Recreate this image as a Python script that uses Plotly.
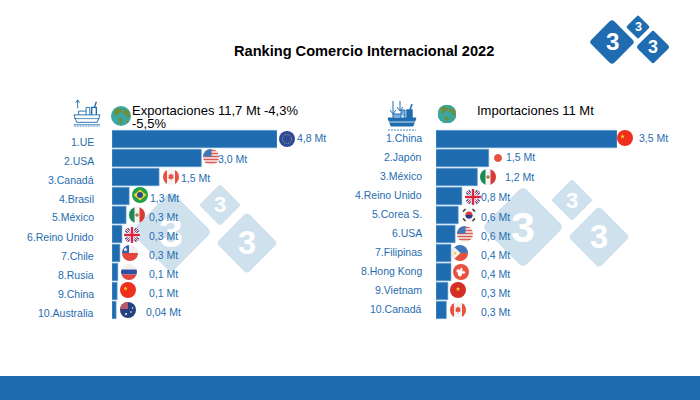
import base64
import plotly.graph_objects as go

W, H = 700, 400
BLUE = "#1f6db0"
TEXT_BLUE = "#1f6db0"
WATERMARK = "#d0e1ee"
FONT = "Liberation Sans"

# exportaciones
exp_names = ["1.UE", "2.USA", "3.Canadá", "4.Brasil", "5.México", "6.Reino Unido",
             "7.Chile", "8.Rusia", "9.China", "10.Australia"]
exp_bars = [4.8, 2.6, 1.37, 0.5, 0.41, 0.29, 0.23, 0.17, 0.15, 0.12]
exp_labels = ["4,8 Mt", "3,0 Mt", "1,5 Mt", "1,3 Mt", "0,3 Mt", "0,3 Mt",
              "0,3 Mt", "0,1 Mt", "0,1 Mt", "0,04 Mt"]
exp_flags = ["eu", "usa", "canada", "brazil", "mexico", "uk", "chile", "russia", "china", "australia"]

# importaciones
imp_names = ["1.China", "2.Japón", "3.México", "4.Reino Unido", "5.Corea S.", "6.USA",
             "7.Filipinas", "8.Hong Kong", "9.Vietnam", "10.Canadá"]
imp_bars = [3.5, 1.02, 0.8, 0.5, 0.43, 0.37, 0.29, 0.29, 0.23, 0.2]
imp_labels = ["3,5 Mt", "1,5 Mt", "1,2 Mt", "0,8 Mt", "0,6 Mt", "0,6 Mt",
              "0,4 Mt", "0,4 Mt", "0,3 Mt", "0,3 Mt"]
imp_flags = ["china", "japan", "mexico", "uk", "korea", "usa", "philippines", "hongkong", "vietnam", "canada"]

# where flags and value labels sit, in page pixels
exp_flag_x = [287, 211, 171, 140, 137, 132, 130, 129, 128, 128]
exp_flag_y = [139, 157, 177, 195, 215, 235, 253, 272, 290, 310]
exp_label_x = [296, 217, 180, 149, 148, 148, 148, 148, 148, 145]
exp_label_y = [138, 159, 178, 198, 217, 236, 255, 274, 293, 312]
imp_flag_x = [625, 0, 488, 473, 469, 465, 460, 461, 458, 458]
imp_flag_y = [138, 158, 177, 197, 215, 234, 253, 272, 290, 310]
imp_label_x = [638, 505, 504, 480, 480, 480, 480, 480, 480, 480]
imp_label_y = [138, 157, 177, 197, 217, 236, 255, 274, 293, 312]


def px(x):
    return x / W


def py(y):
    return 1 - y / H


def circle_svg(body):
    svg = ('<svg xmlns="http://www.w3.org/2000/svg" viewBox="0 0 32 32">'
           '<defs><clipPath id="c"><circle cx="16" cy="16" r="16"/></clipPath></defs>'
           '<g clip-path="url(#c)">' + body + '</g></svg>')
    return "data:image/svg+xml;base64," + base64.b64encode(svg.encode()).decode()


uk_body = ('<rect width="32" height="32" fill="#eef0f4"/>'
           '<path d="M0 0L32 32M32 0L0 32" stroke="#2d3f8c" stroke-width="9"/>'
           '<path d="M0 0L32 32M32 0L0 32" stroke="#ffffff" stroke-width="4"/>'
           '<path d="M0 0L32 32M32 0L0 32" stroke="#d7263d" stroke-width="2"/>'
           '<path d="M16 0V32M0 16H32" stroke="#ffffff" stroke-width="9"/>'
           '<path d="M16 0V32M0 16H32" stroke="#d7263d" stroke-width="5"/>')
star = '<path d="M{x} {a}l1.2 3.4h3.5l-2.8 2.1 1 3.4-2.9-2-2.9 2 1-3.4-2.8-2.1h3.5z" fill="{c}"/>'

FLAGS = {
    "eu": '<rect width="32" height="32" fill="#2b4a9b"/>'
          '<circle cx="16" cy="16" r="9" fill="none" stroke="#d6b23a" stroke-width="2" stroke-dasharray="2 2.7"/>',
    "usa": '<rect width="32" height="32" fill="#f3f3f3"/>'
           '<path d="M0 3H32M0 9H32M0 15H32M0 21H32M0 27H32" stroke="#e0574f" stroke-width="3"/>'
           '<rect width="17" height="15" fill="#3f76b8"/>',
    "canada": '<rect width="32" height="32" fill="#f5f5f5"/>'
              '<rect width="8" height="32" fill="#e8503f"/><rect x="24" width="8" height="32" fill="#e8503f"/>'
              '<path d="M16 8l2 4 3-1-1 5 2 1-3 3-2.500-0.500V24h-1v-4.500L13 20l-3-3 2-1-1-5 3 1z" fill="#e8503f"/>',
    "brazil": '<rect width="32" height="32" fill="#1fa04b"/>'
              '<path d="M16 5L29 16L16 27L3 16z" fill="#f5d327"/><circle cx="16" cy="16" r="6" fill="#214c94"/>',
    "mexico": '<rect width="32" height="32" fill="#f4f4f4"/>'
              '<rect width="11" height="32" fill="#1d8a55"/><rect x="21" width="11" height="32" fill="#d83a34"/>'
              '<circle cx="16" cy="16" r="3.500" fill="#a07c42"/>',
    "uk": uk_body,
    "chile": '<rect width="32" height="16" fill="#eeeeee"/><rect y="16" width="32" height="16" fill="#e0483e"/>'
             '<rect width="14" height="16" fill="#2f5ba8"/>' + star.format(x=7, a=4, c="#ffffff"),
    "russia": '<rect width="32" height="11" fill="#f1f1f1"/><rect y="11" width="32" height="10" fill="#2f4fa2"/>'
              '<rect y="21" width="32" height="11" fill="#e0483e"/>',
    "china": '<rect width="32" height="32" fill="#ee2f1c"/>' + star.format(x=11, a=8, c="#f8d12f"),
    "australia": '<rect width="32" height="32" fill="#27407f"/>'
                 '<rect width="16" height="14" fill="#b95a6a"/>'
                 '<circle cx="22" cy="20" r="1.500" fill="#ffffff"/><circle cx="12" cy="24" r="2" fill="#ffffff"/>'
                 '<circle cx="25" cy="12" r="1.500" fill="#ffffff"/>',
    "japan": '<circle cx="16" cy="16" r="16" fill="#e8503f"/>',
    "korea": '<rect width="32" height="32" fill="#f7f7f7"/><circle cx="16" cy="16" r="7" fill="#d83a34"/>'
             '<path d="M9 16a7 7 0 0 0 14 0z" fill="#23408f"/>'
             '<path d="M4 9L9 4M23 4L28 9M4 23L9 28M23 28L28 23" stroke="#333333" stroke-width="3"/>',
    "philippines": '<rect width="32" height="16" fill="#3f76b8"/><rect y="16" width="32" height="16" fill="#e8503f"/>'
                   '<path d="M0 0L17 16L0 32z" fill="#f4f4f4"/><circle cx="6" cy="16" r="3" fill="#f5d327"/>',
    "hongkong": '<rect width="32" height="32" fill="#e8503f"/>'
                '<path d="M16 7a5 5 0 0 1 2 8a5 5 0 0 1 7 2a5 5 0 0 1-8 1a5 5 0 0 1-2 7a5 5 0 0 1-5-7'
                'a5 5 0 0 1-3-6a5 5 0 0 1 8 1a5 5 0 0 1 1-6z" fill="#ffffff"/>',
    "vietnam": '<rect width="32" height="32" fill="#d32f27"/>' + star.format(x=16, a=9, c="#f8d12f"),
}

GLOBE = circle_svg('<rect width="32" height="32" fill="#3ba7a3"/>'
                   '<path d="M5 6l8-3 5 3-2 5-5 1-1 5-4-3z" fill="#6c8e3f"/>'
                   '<path d="M20 4l9 5 2 9-5 1-2-5-5-2z" fill="#6c8e3f"/>'
                   '<path d="M12 19l6 1 1 5-4 5-2-5z" fill="#6c8e3f"/>'
                   '<path d="M24 23l4 1-3 4z" fill="#6c8e3f"/>')


def ship_svg(arrow_path, filled):
    hull = BLUE if filled else "none"
    svg = ('<svg xmlns="http://www.w3.org/2000/svg" viewBox="0 0 30 30">'
           f'<path d="{arrow_path}" stroke="{BLUE}" stroke-width="1" fill="none"/>'
           f'<path d="M1 17H29L26 25H4z" stroke="{BLUE}" stroke-width="1" fill="{hull}"/>'
           f'<path d="M6 17V13H14V17M14 13V9H18V17" stroke="{BLUE}" stroke-width="1" fill="{"#7fb0db" if filled else "none"}"/>'
           f'<path d="M20 17V9H25V17M23 9L25 3" stroke="{BLUE}" stroke-width="1.500" fill="{hull}"/>'
           f'<path d="M1 21H28M1 27.500H29" stroke="{"#ffffff" if filled else BLUE}" stroke-width="0.800"/>'
           f'<path d="M1 29H29" stroke="{BLUE}" stroke-width="0.800" stroke-dasharray="2 1"/>'
           '</svg>')
    return "data:image/svg+xml;base64," + base64.b64encode(svg.encode()).decode()


def place_image(source, x, y, size):
    return dict(source=source, xref="paper", yref="paper", x=px(x), y=py(y),
                sizex=size / W, sizey=size / H, xanchor="center", yanchor="middle",
                sizing="contain", layer="above")


def text_at(text, x, y, size, color, anchor="left", bold=False):
    if bold:
        text = "<b>" + text + "</b>"
    return dict(text=text, xref="paper", yref="paper", x=px(x), y=py(y), showarrow=False, borderpad=0,
                xanchor=anchor, yanchor="middle", align=anchor, font=dict(family=FONT, size=size, color=color))


def diamond_path(cx, cy, half):
    r = half * 0.1
    pts = [(cx, cy - half), (cx + half, cy), (cx, cy + half), (cx - half, cy)]
    d = ""
    for i, (x, y) in enumerate(pts):
        nx, ny = pts[(i + 1) % 4]
        ox, oy = pts[i - 1]
        sx = x + (ox - x) * r / half
        sy = y + (oy - y) * r / half
        ex = x + (nx - x) * r / half
        ey = y + (ny - y) * r / half
        d += ("M" if i == 0 else "L") + f"{px(sx):.5f},{py(sy):.5f} Q{px(x):.5f},{py(y):.5f} {px(ex):.5f},{py(ey):.5f} "
    return d + "Z"


def logo(items, color, digit_color, layer):
    shapes, notes = [], []
    for cx, cy, half in items:
        shapes.append(dict(type="path", path=diamond_path(cx, cy, half), xref="paper", yref="paper",
                           fillcolor=color, line=dict(width=0), layer=layer))
        notes.append(text_at("3", cx, cy, half * 1.05, digit_color, "center", True))
    return shapes, notes


fig = go.Figure()
fig.add_trace(go.Bar(x=exp_bars, y=exp_names, orientation="h", xaxis="x", yaxis="y",
                     marker=dict(color=BLUE, line=dict(color="#6aa3d5", width=0.6)), hoverinfo="x+y"))
fig.add_trace(go.Bar(x=imp_bars, y=imp_names, orientation="h", xaxis="x2", yaxis="y2",
                     marker=dict(color=BLUE, line=dict(color="#6aa3d5", width=0.6)), hoverinfo="x+y"))

shapes = [dict(type="rect", xref="paper", yref="paper", x0=0, x1=1, y0=0, y1=py(376),
               fillcolor=BLUE, line=dict(width=0), layer="below")]
annotations = []
images = [place_image(GLOBE, 121, 116, 20), place_image(GLOBE, 447, 114, 19),
          place_image(ship_svg("M5 1V10M3 4L5 1L7 4", False), 87, 113, 28),
          place_image(ship_svg("M6 0V12M3 9L6 13L9 9M13 0V9M10 6L13 10L16 6", True), 402, 116, 30)]

for items, color, digit in [([(171, 232, 41), (220, 205, 21), (247, 243, 31)], WATERMARK, "#ffffff"),
                            ([(523, 227, 41), (572, 200, 21), (599, 237, 31)], WATERMARK, "#ffffff"),
                            ([(612, 42, 23), (638, 27, 12), (653, 47, 17)], BLUE, "#ffffff")]:
    s, n = logo(items, color, digit, "below")
    shapes += s
    annotations += n

annotations.append(text_at("Ranking Comercio Internacional 2022", 364, 51, 14.6, "#000000", "center", True))
annotations.append(text_at("Exportaciones 11,7 Mt -4,3%", 131, 110, 13, "#000000"))
annotations.append(text_at("-5,5%", 131, 123, 13, "#000000"))
annotations.append(text_at("Importaciones 11 Mt", 476, 110, 13, "#000000"))

for names, labels, flags, fx, fy, lx, ly, name_end, name_shift in [
        (exp_names, exp_labels, exp_flags, exp_flag_x, exp_flag_y, exp_label_x, exp_label_y, 95, 2.5),
        (imp_names, imp_labels, imp_flags, imp_flag_x, imp_flag_y, imp_label_x, imp_label_y, 423, -1.3)]:
    for i, name in enumerate(names):
        annotations.append(text_at(name, name_end, 139 + 19 * i + name_shift, 10.5, TEXT_BLUE, "right"))
        annotations.append(text_at(labels[i], lx[i], ly[i], 10.5, TEXT_BLUE))
        if flags[i] == "japan":
            images.append(place_image(circle_svg(FLAGS["japan"]), 498, 158, 8))
        else:
            images.append(place_image(circle_svg(FLAGS[flags[i]]), fx[i], fy[i], 16))

hidden = dict(visible=False, fixedrange=True)
fig.update_layout(
    width=W, height=H, margin=dict(l=0, r=0, t=0, b=0), autosize=False,
    paper_bgcolor="#ffffff", plot_bgcolor="rgba(0,0,0,0)",
    showlegend=False, bargap=0.08, font=dict(family=FONT),
    xaxis=dict(domain=[px(112), px(277)], range=[0, 4.8], anchor="y", **hidden),
    yaxis=dict(domain=[py(319.5), py(129.5)], range=[9.5, -0.5], type="category",
               categoryorder="array", categoryarray=exp_names, anchor="x", **hidden),
    xaxis2=dict(domain=[px(436), px(617)], range=[0, 3.5], anchor="y2", **hidden),
    yaxis2=dict(domain=[py(319.5), py(129.5)], range=[9.5, -0.5], type="category",
                categoryorder="array", categoryarray=imp_names, anchor="x2", **hidden),
    shapes=shapes, annotations=annotations, images=images,
)

# page body has a default margin, drop it so the figure fills the window
fig.write_html("out.html", config=dict(displayModeBar=False),
               post_script="document.body.style.margin='0';")
